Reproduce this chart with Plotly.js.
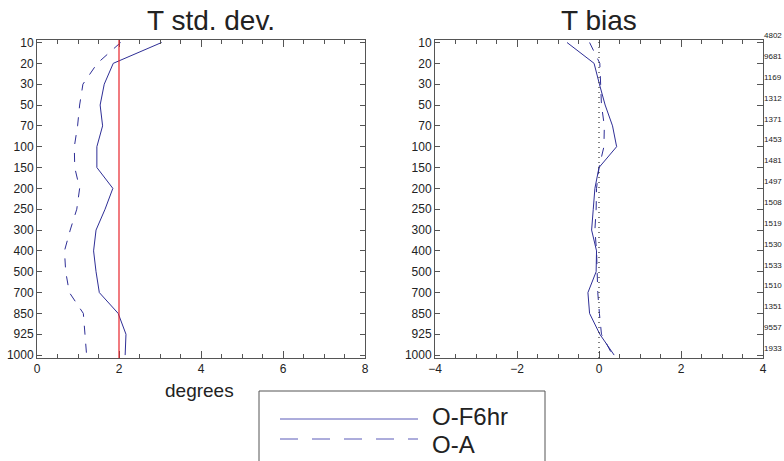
<!DOCTYPE html>
<html>
<head>
<meta charset="utf-8">
<script src="https://cdn.plot.ly/plotly-3.0.1.min.js"></script>
<style>html,body{margin:0;padding:0;background:#fff}#chart{width:784px;height:461px}</style>
</head>
<body>
<div id="chart"></div>
<script>
// Data
var levels = ["10","20","30","50","70","100","150","200","250","300","400","500","700","850","925","1000"];
var counts = ["4802","9681","1169","1312","1371","1453","1481","1497","1508","1519","1530","1533","1510","1351","9557","1933"];
var stdF6 = [3.04,1.86,1.64,1.54,1.60,1.46,1.46,1.85,1.66,1.44,1.38,1.44,1.52,1.98,2.17,2.15];
var stdOA = [2.04,1.47,1.12,1.04,0.99,0.91,0.92,1.04,0.97,0.81,0.67,0.70,0.79,1.13,1.17,1.21];
var biasF6 = [-0.78,-0.12,0.01,0.15,0.33,0.43,0.00,-0.10,-0.14,-0.18,-0.06,-0.07,-0.27,-0.23,0.02,0.37];
var biasOA = [-0.23,0.02,0.04,0.06,0.13,0.12,0.00,-0.06,-0.07,-0.10,-0.06,-0.04,-0.03,0.01,0.06,0.33];
var legendNames = ["O-F6hr","O-A"];
var titles = ["T std. dev.","T bias"];

var idx = levels.map(function(_, i){ return i; });
var col = "#2e2e96";
var W = 784, H = 461;
function px(x){ return x / W; }
function py(y){ return (H - y) / H; }

var traces = [
  {x: stdF6, y: idx, xaxis:"x", yaxis:"y", mode:"lines", line:{color:col, width:1}, name:legendNames[0]},
  {x: stdOA, y: idx, xaxis:"x", yaxis:"y", mode:"lines", line:{color:col, width:1, dash:"dash"}, name:legendNames[1]},
  {x: biasF6, y: idx, xaxis:"x2", yaxis:"y2", mode:"lines", line:{color:col, width:1}, name:legendNames[0]},
  {x: biasOA, y: idx, xaxis:"x2", yaxis:"y2", mode:"lines", line:{color:col, width:1, dash:"dash"}, name:legendNames[1]},
  {x: [null], y: [null], xaxis:"x2", yaxis:"y3", mode:"lines", hoverinfo:"skip"}
];

var font = "Liberation Sans, Arial, sans-serif";
var axcol = "#555";
var yTop = 40, yBot = 358;
var yrange = [15.14, -0.12];
var ydom = [py(yBot), py(yTop)];
function levelPix(v){ return yTop + (v - yrange[1]) / (yrange[0] - yrange[1]) * (yBot - yTop); }

function xax(domain, range, anchor){
  return {domain: domain, range: range, anchor: anchor, dtick: 2, tick0: 0,
    showgrid:false, zeroline:false, showline:true, linecolor:axcol, linewidth:1,
    mirror:"ticks", ticks:"inside", ticklen:7, tickcolor:axcol,
    minor:{dtick:0.5, ticks:"inside", ticklen:4, tickcolor:axcol},
    tickfont:{family:font, size:12, color:"#222"}};
}
function yax(anchor){
  return {domain: ydom, range: yrange, anchor: anchor, tickmode:"array",
    tickvals: idx, ticktext: levels, showgrid:false, zeroline:false,
    showline:true, linecolor:axcol, linewidth:1, ticks:"inside", ticklen:5,
    tickcolor:axcol, tickfont:{family:font, size:12, color:"#222"}};
}

var xa1 = xax([px(37), px(365)], [0, 8], "y");
var xa2 = xax([px(435), px(763)], [-4, 4], "y2");
var ya1 = yax("x"); ya1.mirror = "ticks";
var ya2 = yax("x2"); ya2.mirror = true;
var ya3 = {domain: ydom, range: yrange, anchor:"x2", overlaying:"y2", side:"right",
  tickmode:"array", tickvals: idx, ticks:"inside", ticklen:6, tickcolor:axcol,
  showticklabels:false, showgrid:false, zeroline:false, showline:false};

var annotations = [
  {text: titles[0], xref:"paper", yref:"paper", x:px(211), y:py(21), xanchor:"center", yanchor:"middle",
   showarrow:false, font:{family:font, size:28, color:"#222"}},
  {text: titles[1], xref:"paper", yref:"paper", x:px(599), y:py(21), xanchor:"center", yanchor:"middle",
   showarrow:false, font:{family:font, size:28, color:"#222"}},
  {text: "degrees", xref:"paper", yref:"paper", x:px(199), y:py(390), xanchor:"center", yanchor:"middle",
   showarrow:false, font:{family:font, size:19, color:"#222"}},
  {text: legendNames[0], xref:"paper", yref:"paper", x:px(431), y:py(416), xanchor:"left", yanchor:"middle",
   showarrow:false, borderpad:0, font:{family:font, size:24, color:"#222"}},
  {text: legendNames[1], xref:"paper", yref:"paper", x:px(431), y:py(444), xanchor:"left", yanchor:"middle",
   showarrow:false, borderpad:0, font:{family:font, size:24, color:"#222"}}
];
counts.forEach(function(c, i){
  annotations.push({text: c, xref:"paper", yref:"paper", x:px(783), y:py(levelPix(i) - 6.7),
    xanchor:"right", yanchor:"middle", borderpad:0,
    showarrow:false, font:{family:font, size:8, color:"#222"}});
});

var shapes = [
  {type:"line", xref:"x", yref:"y domain", x0:2, x1:2, y0:0, y1:1, line:{color:"#e8232a", width:1.2}},
  {type:"line", xref:"x2", yref:"y2 domain", x0:0, x1:0, y0:0, y1:1, line:{color:"#333", width:1.2, dash:"1px,4px"}},
  {type:"rect", xref:"paper", yref:"paper", x0:px(259), x1:px(545), y0:py(470), y1:py(391), line:{color:"#555", width:1}},
  {type:"line", xref:"paper", yref:"paper", x0:px(280), x1:px(418), y0:py(419), y1:py(419), line:{color:"#5a5ab8", width:1}},
  {type:"line", xref:"paper", yref:"paper", x0:px(280), x1:px(418), y0:py(439), y1:py(439), line:{color:"#5a5ab8", width:1, dash:"18px,14px"}}
];

var layout = {
  width: W, height: H, margin:{l:0, r:0, t:0, b:0}, paper_bgcolor:"#fff", plot_bgcolor:"#fff",
  showlegend:false,
  xaxis: xa1, yaxis: ya1, xaxis2: xa2, yaxis2: ya2, yaxis3: ya3,
  annotations: annotations, shapes: shapes
};
Plotly.newPlot("chart", traces, layout, {staticPlot:true, displayModeBar:false});
</script>
</body>
</html>
